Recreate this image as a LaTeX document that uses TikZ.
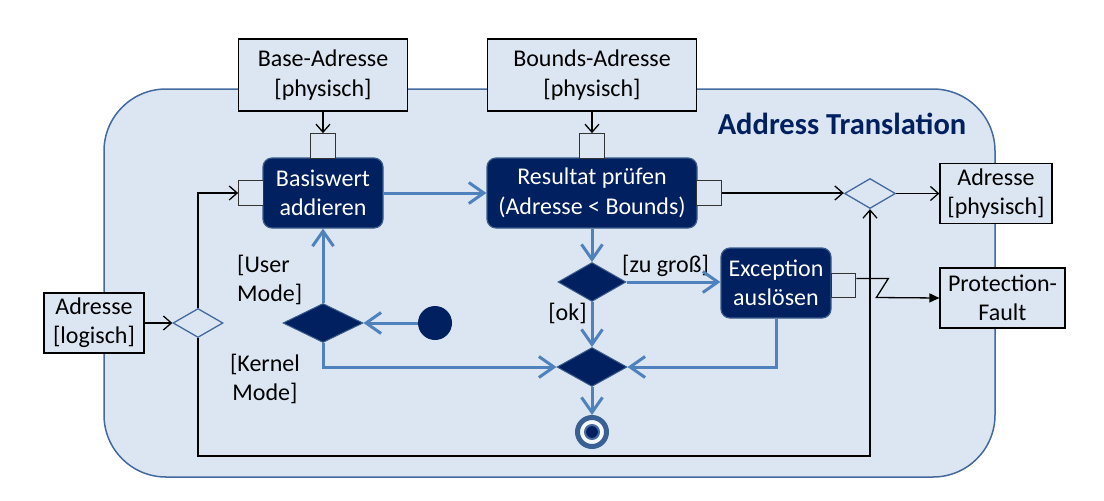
\documentclass[tikz,border=0pt]{standalone}
\usepackage{fontspec}
\setmainfont{Carlito}
\usetikzlibrary{arrows.meta,shapes.geometric,calc}
\definecolor{navy}{RGB}{0,32,96}
\definecolor{regfill}{RGB}{220,230,242}
\definecolor{regline}{RGB}{68,105,157}
\definecolor{ringblue}{RGB}{58,95,148}
\definecolor{conblue}{RGB}{79,129,189}
\definecolor{actline}{RGB}{56,93,138}
\begin{document}
\begin{tikzpicture}[x=1pt,y=-1pt,
  font=\fontsize{24}{29.4}\selectfont,
  objbox/.style={draw=black, line width=1.2pt, fill=regfill, inner sep=0pt, align=center},
  action/.style={rounded corners=9pt, fill=navy, draw=actline, line width=1.2pt, text=white, align=center, inner sep=0pt},
  pin/.style={draw=black!80, line width=1.2pt, fill=regfill, minimum size=24.5pt, inner sep=0pt},
  odiam/.style={diamond, draw=regline, line width=1.3pt, fill=regfill, inner sep=0pt},
  fdiam/.style={diamond, draw=actline, line width=1pt, fill=navy, inner sep=0pt},
  lbl/.style={inner sep=0pt, text=black},
  blk/.style={draw=black, line width=1.3pt, -{Straight Barb[length=8pt,width=14pt]}},
  blu/.style={draw=conblue, line width=3pt, -{Straight Barb[length=15pt,width=21pt]}}
]
\useasboundingbox (0,0) rectangle (1104,501);

% activity region
\node[draw=regline, fill=regfill, line width=1.5pt, rounded corners=62pt,
      minimum width=891pt, minimum height=388pt, inner sep=0pt] (region) at (549.5,283) {};
\node[font=\fontsize{30.5}{36}\selectfont\bfseries, text=navy, anchor=base, inner sep=0pt] (title) at (842,134) {Address Translation};

% object nodes
\node[objbox, minimum width=169pt, minimum height=72pt] (base) at (323,75) {Base-Adresse\\{[physisch]}};
\node[objbox, minimum width=209pt, minimum height=72pt] (bounds) at (592,75) {Bounds-Adresse\\{[physisch]}};
\node[objbox, minimum width=100pt, minimum height=60pt] (logaddr) at (94,323) {Adresse\\{[logisch]}};
\node[objbox, minimum width=112pt, minimum height=60pt] (physaddr) at (996,193.5) {Adresse\\{[physisch]}};
\node[objbox, minimum width=125pt, minimum height=60pt] (fault) at (1002.5,298) {Protection-\\Fault};

% actions
\node[action, minimum width=120pt, minimum height=70pt] (basis) at (323,193) {Basiswert\\addieren};
\node[action, minimum width=210pt, minimum height=70pt] (result) at (592,193) {Resultat prüfen\\(Adresse < Bounds)};
\node[action, minimum width=110pt, minimum height=70pt] (excep) at (776,283) {Exception\\auslösen};

% pins
\node[pin] (pinBT) at (323,146) {};
\node[pin] (pinBL) at (251,193) {};
\node[pin] (pinRT) at (592,146) {};
\node[pin] (pinRR) at (709,193) {};
\node[pin] (pinE) at (843.5,285.5) {};

% control nodes
\node[odiam, minimum width=50pt, minimum height=29pt] (dL) at (198,323) {};
\node[odiam, minimum width=51pt, minimum height=30pt] (dR) at (870,193.5) {};
\node[fdiam, minimum width=80pt, minimum height=39pt] (dU) at (323,323) {};
\node[fdiam, minimum width=68pt, minimum height=39pt] (dC) at (592,282) {};
\node[fdiam, minimum width=70pt, minimum height=39pt] (dJ) at (592,367) {};
\node[circle, fill=navy, minimum size=34pt, inner sep=0pt] (init) at (435,323) {};
\node[circle, draw=ringblue, line width=5pt, fill=white!70!regfill, minimum size=29pt, inner sep=0pt] (fin) at (592,432) {};
\node[circle, fill=navy, draw=regline, line width=2pt, minimum size=14pt, inner sep=0pt] (finc) at (fin) {};

% guard labels
\node[lbl, anchor=west, align=left] (uml) at (237,280) {{[User}\\Mode]};
\node[lbl, align=center] (kml) at (265,379) {{[Kernel}\\Mode]};
\node[lbl, anchor=base] (okl) at (567.5,320) {[ok]};
\node[lbl, anchor=base] (zgl) at (665.5,272) {[zu groß]};

% object flows (black)
\coordinate (low) at (0,456);
\draw[blk] (base.south) -- (pinBT.north);
\draw[blk] (bounds.south) -- (pinRT.north);
\draw[blk] (logaddr.east) -- (dL.west);
\draw[blk] (dL.north) |- (pinBL.west);
\draw[blk] (dL.south) |- (low -| dR.south) -- (dR.south);
\draw[blk] (pinRR.east) -- (pinRR.east -| dR.west);
\draw[blk] (dR.east) -- (physaddr.west);
\draw[draw=black, line width=1.3pt, -{Triangle[length=10pt,width=9pt]}]
  ($(pinE.east)+(0,-7)$) -- ++(32,0) -- ++(-12,19) -- (fault.west);

% control flows (blue)
\draw[blu] (basis.east) -- (result.west);
\draw[blu] (result.south) -- (dC.north);
\draw[blu] (dC.east) -- (dC.east -| excep.west);
\draw[blu] (dC.south) -- (dJ.north);
\draw[blu] (excep.south) |- (dJ.east);
\draw[blu] (dJ.south) -- (fin.north);
\draw[blu] (init.west) -- (dU.east);
\draw[blu] (dU.north) -- (basis.south);
\draw[blu] (dU.south) |- (dJ.west);
\end{tikzpicture}
\end{document}
